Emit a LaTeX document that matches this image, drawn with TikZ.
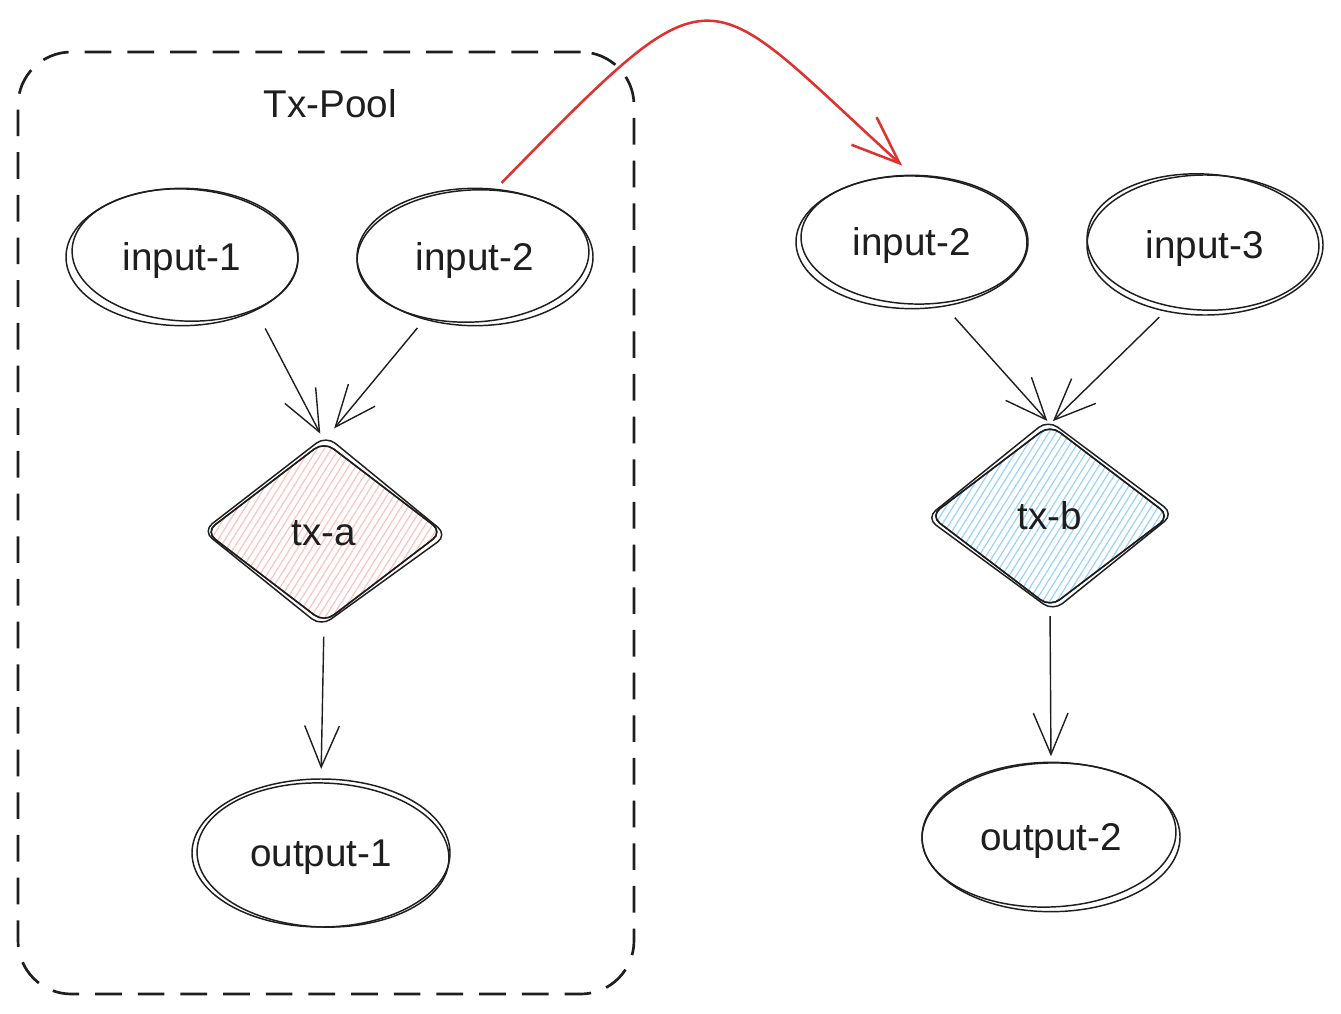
\documentclass[tikz,border=0pt]{standalone}
\usepackage{fontspec}
\setmainfont{Liberation Sans}
\usetikzlibrary{shapes.geometric,arrows.meta,patterns.meta,calc}
\definecolor{ink}{HTML}{1E1E1E}
\definecolor{pinkfill}{HTML}{FFC2C2}
\definecolor{bluefill}{HTML}{99D2FF}
\definecolor{redline}{HTML}{E03131}
\begin{document}
\begin{tikzpicture}[x=0.75pt,y=0.75pt,
  every node/.style={font=\fontsize{29}{34}\selectfont, text=ink, text height=26pt, text depth=5.5pt},
  sk/.style={draw=ink, line width=1.1pt},
  oval/.style={ellipse, sk, inner sep=0pt, minimum width=174pt, minimum height=103pt},
  bigoval/.style={oval, minimum width=193.5pt, minimum height=111pt},
  txbox/.style={diamond, sk, inner sep=0pt, rounded corners=9pt, minimum width=178pt, minimum height=136pt},
  hatch/.style={pattern={Lines[angle=58,distance=4.5pt,line width=0.9pt]}},
  arr/.style={draw=ink, line width=1.05pt, -{Straight Barb[length=31pt,width=26pt,line width=1.05pt]}},
  redarr/.style={draw=redline, line width=1.9pt, -{Straight Barb[length=36pt,width=28pt,line width=1.9pt]}},
]
\useasboundingbox (0,0) rectangle (1341,-1013);
\fill[white] (0,0) rectangle (1341,-1013);

% container
\node[draw=ink, line width=2pt, dash pattern=on 20pt off 12pt, rounded corners=40pt,
      minimum width=462pt, minimum height=706.5pt, inner sep=0pt] (pool) at (326,-523) {};
\node (poollabel) at (330,-104) {Tx-Pool};

% ellipses
\node[oval] (in1) at (182,-257) {input-1};
\node[oval, minimum width=177pt] (in2) at (475,-257) {input-2};
\node[oval, minimum height=100pt] (in2r) at (912,-242) {input-2};
\node[oval, minimum width=177pt, minimum height=105pt] (in3) at (1205,-245) {input-3};
\node[bigoval] (out1) at (321,-853) {output-1};
\node[bigoval, minimum height=112pt] (out2) at (1051,-837) {output-2};

% second strokes
\draw[sk] ($(in1.center)+(3,2)$) ellipse [x radius=113, y radius=66, rotate=-3];
\draw[sk] ($(in2.center)+(-2,1)$) ellipse [x radius=116, y radius=66, rotate=3];
\draw[sk] ($(in2r.center)+(2,2)$) ellipse [x radius=113, y radius=64, rotate=-2];
\draw[sk] ($(in3.center)+(-2,3)$) ellipse [x radius=116, y radius=68, rotate=-3];
\draw[sk] ($(out1.center)+(2,-2)$) ellipse [x radius=126, y radius=72, rotate=-2];
\draw[sk] ($(out2.center)+(-2,2)$) ellipse [x radius=127, y radius=72, rotate=2];

% diamonds
\node[txbox, hatch, pattern color=pinkfill] (txa) at (324,-532) {};
\node[txbox] (txatext) at (txa.center) {tx-a};
\node[txbox, minimum width=180pt, minimum height=137pt, hatch, pattern color=bluefill] (txb) at (1050,-516) {};
\node[txbox, minimum width=180pt, minimum height=137pt] (txbtext) at (txb.center) {tx-b};
\draw[sk, rounded corners=9pt] ([shift={(2,5)}]txa.north) -- ([shift={(4,-3)}]txa.east) -- ([shift={(-3,-3)}]txa.south) -- ([shift={(-2,1)}]txa.west) -- cycle;
\draw[sk, rounded corners=9pt] ([shift={(-2,4)}]txb.north) -- ([shift={(3,2)}]txb.east) -- ([shift={(3,-3)}]txb.south) -- ([shift={(-3,-2)}]txb.west) -- cycle;

% connectors
\draw[arr, shorten <=15pt, shorten >=6pt] (in1.-36) -- (txa.north);
\draw[arr, shorten <=8pt, shorten >=12pt] (in2.231) -- (txa.north);
\draw[arr, shorten <=10pt, shorten >=7pt] (txa.south) -- (out1.north);
\draw[arr, shorten <=11pt, shorten >=3pt] (in2r.-63) -- (txb.north);
\draw[arr, shorten <=6pt, shorten >=3pt] (in3.239) -- (txb.north);
\draw[arr, shorten <=6pt, shorten >=4pt] (txb.south) -- (out2.north);

\draw[redarr, overlay, shorten <=6pt, shorten >=10pt] (in2.73) .. controls (721,41) and (699,19) .. (in2r.north);
\end{tikzpicture}
\end{document}
